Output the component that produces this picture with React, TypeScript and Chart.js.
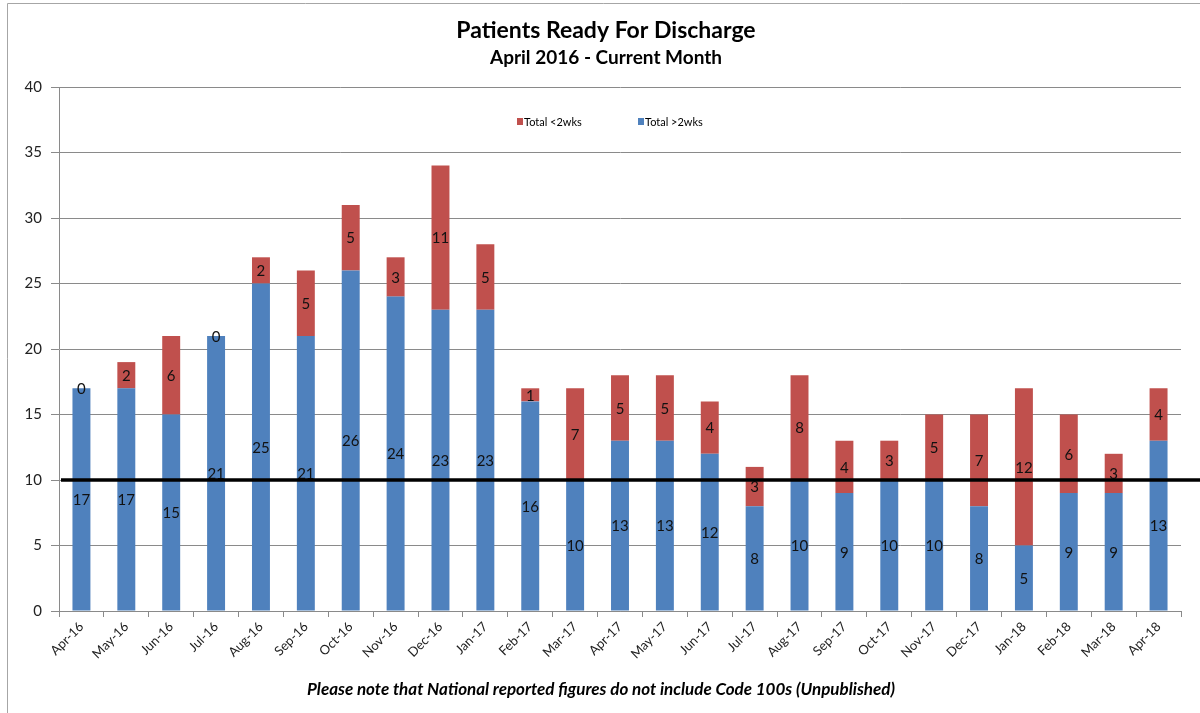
import React, { useEffect, useRef } from "react";
import { Chart, registerables } from "chart.js";

Chart.register(...registerables);

const months = [
  "Apr-16", "May-16", "Jun-16", "Jul-16", "Aug-16", "Sep-16", "Oct-16", "Nov-16", "Dec-16",
  "Jan-17", "Feb-17", "Mar-17", "Apr-17", "May-17", "Jun-17", "Jul-17", "Aug-17", "Sep-17",
  "Oct-17", "Nov-17", "Dec-17", "Jan-18", "Feb-18", "Mar-18", "Apr-18",
];
const totalOver2wks = [17, 17, 15, 21, 25, 21, 26, 24, 23, 23, 16, 10, 13, 13, 12, 8, 10, 9, 10, 10, 8, 5, 9, 9, 13];
const totalUnder2wks = [0, 2, 6, 0, 2, 5, 5, 3, 11, 5, 1, 7, 5, 5, 4, 3, 8, 4, 3, 5, 7, 12, 6, 3, 4];
const targetValue = 10;

const titleText = "Patients Ready For Discharge";
const subtitleText = "April 2016 - Current Month";
const noteText = "Please note that National reported figures do not include Code 100s (Unpublished)";
const legendLabels = ["Total <2wks", "Total >2wks"];

const BLUE = "#4F81BD";
const RED = "#C0504D";
const GRID = "#8a8a8a";
const FONT = "Lato, 'Open Sans', 'Liberation Sans', sans-serif";

const decorPlugin = {
  id: "decor",
  afterDatasetsDraw(chart: any) {
    const ctx = chart.ctx;
    ctx.save();
    // data labels
    ctx.fillStyle = "#111";
    ctx.font = `15px ${FONT}`;
    ctx.textAlign = "center";
    ctx.textBaseline = "middle";
    chart.data.datasets.forEach((ds: any, i: number) => {
      const meta = chart.getDatasetMeta(i);
      meta.data.forEach((el: any, j: number) => {
        const p = el.getProps(["x", "y", "base"], true);
        ctx.fillText(String(ds.data[j]), p.x, (p.y + p.base) / 2 + 1);
      });
    });
    // threshold line
    const y = chart.scales.y.getPixelForValue(targetValue);
    ctx.strokeStyle = "#000";
    ctx.lineWidth = 3.5;
    ctx.beginPath();
    ctx.moveTo(chart.chartArea.left + 2, y);
    ctx.lineTo(chart.width, y);
    ctx.stroke();
    ctx.restore();
  },
  afterDraw(chart: any) {
    const ctx = chart.ctx;
    const cx = 606;
    ctx.save();
    // frame
    ctx.strokeStyle = "#a6a6a6";
    ctx.lineWidth = 1;
    ctx.beginPath();
    ctx.moveTo(7.5, chart.height);
    ctx.lineTo(7.5, 3.5);
    ctx.lineTo(chart.width, 3.5);
    ctx.stroke();
    // titles
    ctx.fillStyle = "#000";
    ctx.textAlign = "center";
    ctx.textBaseline = "middle";
    ctx.font = `bold 23px ${FONT}`;
    ctx.fillText(titleText, cx, 31);
    ctx.font = `bold 19px ${FONT}`;
    ctx.fillText(subtitleText, cx, 58);
    ctx.font = `italic bold 17px ${FONT}`;
    ctx.fillText(noteText, 601, 690);
    // legend
    ctx.font = `11px ${FONT}`;
    ctx.textAlign = "left";
    const items = [
      { label: legendLabels[0], color: RED, x: 517 },
      { label: legendLabels[1], color: BLUE, x: 638 },
    ];
    items.forEach((it) => {
      ctx.fillStyle = it.color;
      ctx.fillRect(it.x, 118, 6, 7);
      ctx.fillStyle = "#000";
      ctx.fillText(it.label, it.x + 7, 122);
    });
    ctx.restore();
  },
};

export default function App() {
  const ref = useRef<HTMLCanvasElement>(null);
  useEffect(() => {
    if (!ref.current) return;
    const chart = new Chart(ref.current, {
      type: "bar",
      data: {
        labels: months,
        datasets: [
          {
            label: legendLabels[1],
            data: totalOver2wks,
            backgroundColor: BLUE,
            barPercentage: 0.8,
            categoryPercentage: 0.5,
          },
          {
            label: legendLabels[0],
            data: totalUnder2wks,
            backgroundColor: RED,
            barPercentage: 0.8,
            categoryPercentage: 0.5,
          },
        ],
      },
      options: {
        responsive: false,
        animation: false,
        layout: { padding: { top: 87, right: 19, left: 0, bottom: 0 } },
        plugins: {
          legend: { display: false },
          title: { display: false },
          tooltip: { enabled: false },
        },
        scales: {
          x: {
            stacked: true,
            grid: {
              drawOnChartArea: false,
              drawTicks: true,
              tickLength: 6,
              color: GRID,
              offset: true,
            },
            border: { color: GRID, width: 1 },
            ticks: {
              maxRotation: 45,
              minRotation: 45,
              autoSkip: false,
              color: "#222",
              font: { family: FONT, size: 13 },
              padding: 2,
            },
            afterFit: (s: any) => {
              s.height = 102;
            },
          },
          y: {
            stacked: true,
            min: 0,
            max: 40,
            ticks: {
              stepSize: 5,
              color: "#222",
              font: { family: FONT, size: 15 },
              padding: 9,
            },
            grid: { color: GRID, tickLength: 8, lineWidth: 1 },
            border: { color: GRID, width: 1 },
            afterFit: (s: any) => {
              s.width = 59;
            },
          },
        },
      },
      plugins: [decorPlugin],
    });
    return () => chart.destroy();
  }, []);
  return (
    <div style={{ position: "absolute", left: 0, top: 0, width: 1200, height: 713, background: "#fff" }}>
      <canvas ref={ref} width={1200} height={713} style={{ display: "block" }} />
    </div>
  );
}
